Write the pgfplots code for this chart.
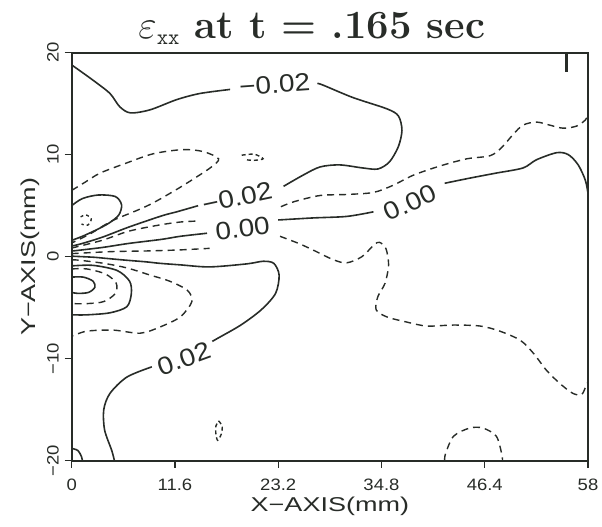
\documentclass[border=0pt]{standalone}
\usepackage{fix-cm}
\usepackage{fontspec}
\usepackage{pgfplots}
\pgfplotsset{compat=1.18}
\newfontfamily\hsf[FakeStretch=1.12]{Liberation Sans}
\newfontfamily\hsfw[FakeStretch=1.35]{Liberation Sans}
\DeclareMathSizes{40}{40}{21}{15}
\definecolor{ink}{RGB}{40,44,40}
\begin{document}
\begin{tikzpicture}
\begin{axis}[
  scale only axis, width=516.3pt, height=408pt,
  xmin=0, xmax=58, ymin=-20, ymax=20,
  axis line style={ink, line width=1.8pt},
  xtick={0,11.6,23.2,34.8,46.4,58},
  xticklabels={0,11.6,23.2,34.8,46.4,58},
  ytick={-20,-10,0,10,20},
  yticklabels={−20,−10,0,10,20},
  tick align=outside, major tick length=7pt, tick pos=left,
  every tick/.style={ink, line width=1.2pt},
  xticklabel style={font=\hsf\fontsize{16.5}{18}\selectfont, text=ink, anchor=base, inner sep=0pt},
  xticklabel shift=22.5pt,
  yticklabel style={font=\hsf\fontsize{16.5}{18}\selectfont, text=ink, rotate=90, anchor=base, inner sep=0pt},
  yticklabel shift=6pt,
  xlabel={X−AXIS(mm)},
  xlabel style={font=\hsfw\fontsize{20}{22}\selectfont, text=ink, at={([yshift=-50.3pt]axis description cs:0.5,0)}, anchor=base, inner sep=0pt},
  ylabel={Y−AXIS(mm)},
  ylabel style={font=\hsfw\fontsize{20}{22}\selectfont, text=ink, at={([xshift=-35.7pt]axis description cs:0,0.5)}, anchor=base, inner sep=0pt},
  title={\fontsize{40}{44}\selectfont\bfseries $\varepsilon_{\hbox{\fontsize{22}{24}\selectfont\ttfamily\mdseries xx}}$ at t = .165 sec},
  title style={text=ink, at={([xshift=-18pt,yshift=8.4pt]axis description cs:0.5,1)}, anchor=base, inner sep=0pt},
  clip=true,
]
\pgfplotsset{
  sl/.style={ink, line width=1.6pt, smooth, no markers, tension=0.5},
  dl/.style={ink, line width=1.4pt, smooth, no markers, tension=0.5, dash pattern=on 7pt off 5pt},
}
% -0.02 contour (top)
\addplot[sl] coordinates {(0,18.8) (2.4,17.3) (4.3,16.0) (5.4,14.7) (6.6,14.1) (8.8,14.4) (11.8,15.4) (14.4,16.0) (17.8,16.4)};
\addplot[sl] coordinates {(27.6,17.0) (28.3,16.8) (31.6,15.6) (35.4,14.5) (36.7,13.8) (37.1,12.4) (36.7,10.8) (35.7,9.3) (34.4,8.6) (32.7,8.7) (30.1,9.0) (27.9,8.8) (26.0,8.0) (23.8,6.9)};
\addplot[sl] coordinates {(14.2,5.0) (11.8,4.4) (10.1,4.0) (6.4,2.9) (3.4,1.9) (1.0,1.25) (0,1.05)};
% dashed upper loop
\addplot[dl] coordinates {(0,6.5) (1.5,7.3) (3.2,8.2) (6.2,9.2) (9.2,10.1) (12.5,10.5) (14.8,10.3) (16.5,9.6) (15.7,8.8) (14.0,7.8) (11.8,6.6) (9.2,5.3) (7.5,4.6) (4.5,3.5) (2.0,2.2) (0,1.35)};
\addplot[dl, dash pattern=on 4pt off 3pt] coordinates {(19.1,9.95) (20.5,10.05) (21.5,9.6) (20.5,9.45) (19.6,9.5)};
% upper lobe
\addplot[sl] coordinates {(0,5.0) (1.2,5.7) (3.0,6.05) (4.9,5.9) (5.6,5.1) (5.3,4.1) (4.2,3.3) (2.7,2.6) (1.2,2.0) (0,1.6)};
\addplot[dl, dash pattern=on 3pt off 3pt] coordinates {(1.0,3.9) (1.6,4.1) (2.2,3.7) (1.8,3.1) (1.1,3.2)};
% dashed between -0.02 and 0.00
\addplot[dl] coordinates {(0,0.85) (3.4,1.6) (6.4,2.5) (9.8,3.1) (12.2,3.4) (14.3,3.5)};
\addplot[dl] coordinates {(23.5,4.9) (25,5.4) (27.9,6.0) (30.9,6.1) (33.9,6.3) (36.1,7.0) (38.4,8.0) (41.4,8.9) (44.4,9.6) (47.0,9.9) (48.3,10.7) (49.6,12.0) (50.7,12.9) (52.2,13.2) (53.7,12.9) (55.2,12.6) (56.7,12.8) (57.7,13.4) (58,13.9)};
% 0.00 contour
\addplot[sl] coordinates {(0,0.55) (3.4,0.9) (6.4,1.3) (10.1,1.7) (12.2,2.0) (15.2,2.3)};
\addplot[sl] coordinates {(23.2,3.6) (27.1,3.8) (30.9,3.95) (33.9,4.4)};
\addplot[sl] coordinates {(41.9,7.2) (44.7,7.7) (47.7,8.2) (50.7,8.7) (52.2,9.5) (54.5,10.2) (55.8,10.0) (56.9,9.0) (57.7,7.5) (58,6.2)};
% dashed crossing to lower right
\addplot[dl] coordinates {(0,0.3) (4.5,0.5) (8.3,0.56) (12.0,0.66) (15.5,0.82)};
\addplot[dl] coordinates {(23.4,2.0) (25.5,1.3) (27.1,0.66) (29.4,-0.3) (30.9,-0.6) (32.6,0.0) (34.0,1.2) (34.6,1.4) (35.3,0.8) (35.6,-0.8) (35.2,-2.6) (34.4,-3.9) (34.2,-5.2) (35.4,-5.9) (37.6,-6.4) (39.9,-6.8) (42.9,-6.7) (45.9,-6.8) (48.1,-7.3) (50.4,-8.2) (51.9,-9.5) (53.3,-11.1) (54.8,-12.4) (56.3,-13.4) (57.3,-13.5) (57.8,-12.6) (58,-12.3)};
% 0.02 contour
\addplot[sl] coordinates {(0,0.05) (2.4,-0.05) (3.8,-0.16) (6.2,-0.35) (8.3,-0.5) (9.9,-0.65) (12.2,-0.8) (15.5,-1.0) (19.7,-0.7) (21.5,-0.45) (22.7,-0.65) (23.3,-1.8) (22.9,-3.6) (21.3,-5.2) (19.0,-6.7) (16.4,-8.0) (15.8,-8.3)};
\addplot[sl] coordinates {(9.0,-10.8) (6.2,-11.8) (4.3,-13.4) (3.6,-15.0) (3.7,-17.0) (4.5,-19.0) (4.8,-20)};
% dashed lower loop
\addplot[dl] coordinates {(0,-0.3) (0.9,-0.35) (3.6,-0.65) (6.2,-1.1) (8.8,-1.8) (11.0,-2.4) (13.0,-3.3) (13.5,-4.4) (12.2,-5.9) (9.9,-6.9) (7.7,-7.5) (4.7,-7.2) (1.7,-7.3) (0,-7.8)};
% lower lobe
\addplot[sl] coordinates {(0,-0.9) (2.4,-0.85) (5.1,-1.35) (6.5,-2.4) (6.7,-3.6) (6.2,-4.9) (4.3,-5.5) (1.7,-5.7) (0,-5.7)};
\addplot[dl] coordinates {(0,-1.2) (1.7,-1.2) (3.8,-1.7) (5.0,-2.6) (4.9,-3.6) (3.6,-4.4) (1.7,-4.6) (0,-4.6)};
\addplot[sl] coordinates {(0,-2.0) (1.3,-2.0) (2.4,-2.4) (2.6,-3.0) (1.9,-3.5) (0.7,-3.6) (0,-3.5)};
% corner arc
\addplot[sl] coordinates {(0,-18.8) (0.7,-19.0) (1.1,-19.6) (1.2,-20)};
% small dashed loop
\addplot[dl, dash pattern=on 4pt off 3pt] coordinates {(16.5,-16.1) (16.9,-16.6) (16.8,-17.4) (16.4,-18.0) (16.2,-17.4) (16.2,-16.6) (16.5,-16.1)};
% bottom dashed arc
\addplot[dl] coordinates {(41.9,-20) (42.0,-19.3) (42.9,-17.6) (44.7,-16.8) (46.2,-16.8) (47.7,-17.6) (48.3,-19.3) (48.4,-20)};
% mark at top right
\addplot[ink, line width=2.6pt, no markers] coordinates {(55.6,20) (55.6,18.1)};
% contour labels
\node[font=\hsf\fontsize{25}{27}\selectfont, text=ink, rotate=4, inner sep=0pt] at (axis cs:22.8,16.9) {−0.02};
\node[font=\hsf\fontsize{25}{27}\selectfont, text=ink, rotate=12, inner sep=0pt] at (axis cs:18.6,5.8) {−0.02};
\node[font=\hsf\fontsize{25}{27}\selectfont, text=ink, rotate=7, inner sep=0pt] at (axis cs:19.2,2.8) {0.00};
\node[font=\hsf\fontsize{25}{27}\selectfont, text=ink, rotate=25, inner sep=0pt] at (axis cs:38.0,5.3) {0.00};
\node[font=\hsf\fontsize{25}{27}\selectfont, text=ink, rotate=20, inner sep=0pt] at (axis cs:12.6,-10.0) {0.02};
\end{axis}
\pgfresetboundingbox
\path[use as bounding box] (-71.7pt,-66.3pt) rectangle (530.3pt,460.7pt);
\end{tikzpicture}
\end{document}
